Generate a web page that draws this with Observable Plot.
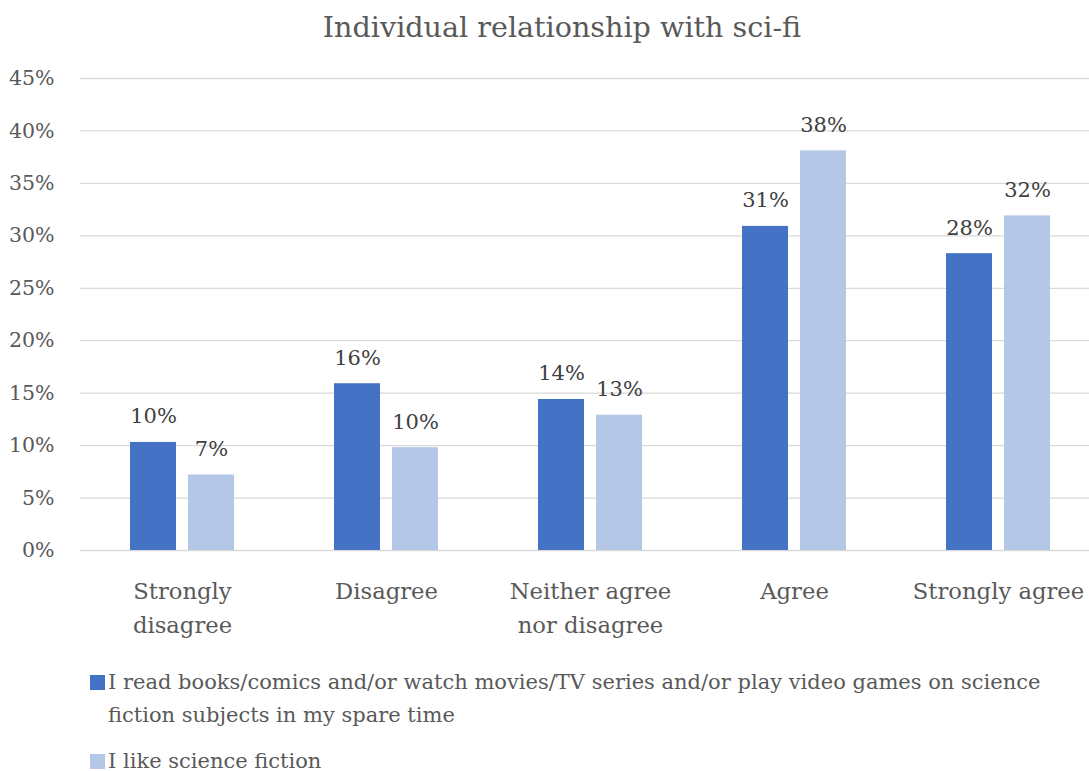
<!DOCTYPE html>
<html>
<head>
<meta charset="utf-8">
<script src="https://cdn.jsdelivr.net/npm/d3@7"></script>
<script src="https://cdn.jsdelivr.net/npm/@observablehq/plot@0.6"></script>
<style>
  html, body { margin: 0; padding: 0; background: #fff; overflow: hidden; }
  body { width: 1089px; height: 771px; position: relative; font-family: "DejaVu Serif", serif; color: #595959; }
  #title { position: absolute; left: 0; top: 7px; width: 1124px; text-align: center; font-size: 28.6px; line-height: 40px; }
  #chart { position: absolute; left: 0; top: 60px; width: 1100px; }
  #legend { position: absolute; left: 90px; top: 666px; font-size: 21px; }
  .item { display: flex; align-items: flex-start; line-height: 33px; white-space: nowrap; }
  .item + .item { margin-top: 13px; }
  .swatch { width: 15px; height: 15px; margin-top: 9px; margin-right: 3px; flex: none; }
</style>
</head>
<body>
<div id="title"></div>
<div id="chart"></div>
<div id="legend"></div>
<script>
// Survey answers, percent of respondents
const categories = ["Strongly disagree", "Disagree", "Neither agree nor disagree", "Agree", "Strongly agree"];
const categoryLabels = ["Strongly\ndisagree", "Disagree", "Neither agree\nnor disagree", "Agree", "Strongly agree"];
const seriesNames = [
  "I read books/comics and/or watch movies/TV series and/or play video games on science fiction subjects in my spare time",
  "I like science fiction"
];
const engagedValues = [10.3, 15.9, 14.4, 30.9, 28.3];
const likesValues = [7.2, 9.8, 12.9, 38.1, 31.9];
const yTicks = [0, 5, 10, 15, 20, 25, 30, 35, 40, 45];
const colors = ["#4472C4", "#B4C7E7"];
const titleText = "Individual relationship with sci-fi";

const font = "DejaVu Serif, serif";

const data = [];
categories.forEach((c, i) => {
  data.push({category: c, series: seriesNames[0], value: engagedValues[i]});
  data.push({category: c, series: seriesNames[1], value: likesValues[i]});
});
const labelOf = new Map(categories.map((c, i) => [c, categoryLabels[i]]));

document.getElementById("title").textContent = titleText;

// The last category's band runs slightly past the page edge, so the svg
// keeps its own width instead of shrinking to fit.
const chart = Plot.plot({
  width: 1100,
  height: 590,
  marginTop: 18,
  marginBottom: 100,
  marginLeft: 80,
  marginRight: 0,
  style: "font-family: 'DejaVu Serif', serif; font-size: 21px; color: #595959; background: transparent; max-width: none;",
  fx: {domain: categories, padding: 0, axis: null, label: null},
  x: {domain: seriesNames, paddingInner: 0.207, paddingOuter: 0.862, axis: null, label: null},
  y: {domain: [0, 45], axis: null, label: null},
  color: {domain: seriesNames, range: colors},
  marks: [
    Plot.gridY(yTicks, {stroke: "#d9d9d9", strokeOpacity: 1, strokeWidth: 1.3}),
    Plot.axisY(yTicks, {label: null, tickSize: 0, tickPadding: 26, tickFormat: d => d + "%", fill: "#595959", fontFamily: font, fontSize: 20.5}),
    Plot.axisFx({anchor: "bottom", label: null, tickSize: 0, tickPadding: 24, lineHeight: 1.5, tickFormat: d => labelOf.get(d), fill: "#595959", fontFamily: font, fontSize: 22.7}),
    Plot.barY(data, {fx: "category", x: "series", y: "value", fill: "series"}),
    Plot.text(data, {fx: "category", x: "series", y: "value", text: d => Math.round(d.value) + "%", lineAnchor: "bottom", dy: -19, fill: "#404040", fontFamily: font, fontSize: 21})
  ]
});
chart.style.maxWidth = "none";
document.getElementById("chart").appendChild(chart);

// Legend below the chart
const legend = document.getElementById("legend");
const legendLines = [
  ["I read books/comics and/or watch movies/TV series and/or play video games on science", "fiction subjects in my spare time"],
  ["I like science fiction"]
];
legendLines.forEach((lines, i) => {
  const item = document.createElement("div");
  item.className = "item";
  const sw = document.createElement("span");
  sw.className = "swatch";
  sw.style.background = colors[i];
  const txt = document.createElement("span");
  txt.innerHTML = lines.map(l => l.replace(/&/g, "&amp;").replace(/</g, "&lt;")).join("<br>");
  item.appendChild(sw);
  item.appendChild(txt);
  legend.appendChild(item);
});
</script>
</body>
</html>
